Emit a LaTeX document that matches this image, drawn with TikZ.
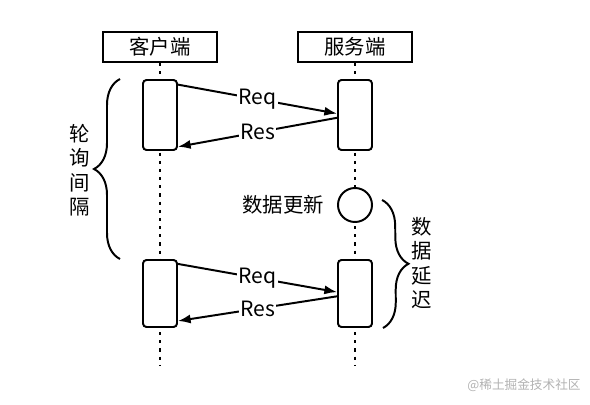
\documentclass[tikz,border=0pt]{standalone}
\usepackage{fontspec}
\setmainfont{Noto Sans CJK SC}
\usetikzlibrary{arrows.meta,decorations.pathreplacing}

\begin{document}
\begin{tikzpicture}
        [x=0.025cm, y=-0.025cm, line width=1.4pt,
        lifeHead/.style={rectangle,draw,minimum width=2.85cm,minimum height=0.75cm, font=\fontsize{14.5}{16}\selectfont},
        act/.style={rectangle,draw,rounded corners=2.5pt,fill=white,minimum width=0.85cm,minimum height=1.75cm},
        life/.style={dash pattern=on 2.2pt off 3.6pt, line width=1.9pt},
        msg/.style={-{Latex[length=9pt,width=6.5pt]}},
        msgText/.style={midway, fill=white, inner sep=1pt, font=\fontsize{15}{16}\selectfont},
        curly/.style={decorate, decoration={brace, amplitude=0.65cm}},
        vText/.style={align=center, font=\fontsize{14.5}{17.4}\selectfont}]
        \useasboundingbox (0,0) rectangle (590,405);

        \node[lifeHead] (C) at (160,47) {客户端};
        \node[lifeHead] (S) at (355,47) {服务端};
        \coordinate (Cend) at (160,365);
        \coordinate (Send) at (355,365);
        \draw[life] (C) -- (Cend);
        \draw[life] (S) -- (Send);

        \node[act] (C1) at (160,115) {};
        \node[act] (S1) at (355,115) {};
        \node[act, minimum height=1.675cm] (C2) at (160,293.5) {};
        \node[act, minimum height=1.675cm] (S2) at (355,293.5) {};
        \node[circle, draw, fill=white, minimum size=0.85cm] (U) at (355,205) {};

        \draw[msg] ([yshift=-4pt]C1.north east) -- ([yshift=1pt]S1.west) node[msgText] {Req};
        \draw[msg] ([yshift=-2pt]S1.west) -- ([yshift=3pt]C1.south east) node[msgText] {Res};
        \draw[msg] ([yshift=-3.5pt]C2.north east) -- ([yshift=1pt]S2.west) node[msgText] {Req};
        \draw[msg] ([yshift=-2pt]S2.west) -- ([yshift=5pt]C2.south east) node[msgText] {Res};

        \draw[curly] ([xshift=-0.55cm]C2.north west) -- ([xshift=-0.55cm]C1.north west);
        \draw[curly] (382,200) -- ([xshift=0.25cm]S2.south east);

        \node[vText] (P) at (80,170) {轮\\询\\间\\隔};
        \node[vText] (D) at (422,263) {数\\据\\延\\迟};
        \node[vText] (N) at (283,205) {数据更新};
        \node[text=gray!60, font=\fontsize{9}{10}\selectfont] (W) at (524,385) {@稀土掘金技术社区};
    \end{tikzpicture}
\end{document}
